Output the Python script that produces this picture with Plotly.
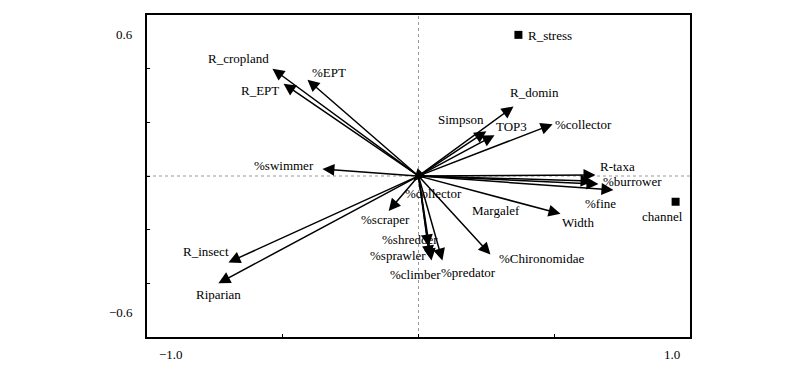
import plotly.graph_objects as go

# ---- data ----
arrow_names = ["R_cropland", "R_EPT", "%EPT", "%swimmer", "R_domin", "Simpson", "TOP3",
               "%collector", "R-taxa", "Margalef", "%burrower", "%fine", "Width",
               "%Chironomidae", "%predator", "%climber", "%sprawler", "%shredder",
               "%scraper", "%collector ", "R_insect", "Riparian"]
arrow_x = [-0.538, -0.497, -0.409, -0.354, 0.350, 0.250, 0.280,
           0.494, 0.652, 0.641, 0.663, 0.718, 0.523,
           0.265, 0.088, 0.048, 0.041, 0.037,
           -0.110, -0.018, -0.700, -0.737]
arrow_y = [0.400, 0.344, 0.359, 0.026, 0.259, 0.167, 0.152,
           0.193, 0.004, -0.019, -0.030, -0.052, -0.141,
           -0.293, -0.315, -0.315, -0.304, -0.263,
           -0.130, -0.019, -0.322, -0.400]
label_x = [-0.663, -0.582, -0.331, -0.497, 0.427, 0.155, 0.343,
           0.608, 0.733, 0.287, 0.788, 0.670, 0.589,
           0.453, 0.185, -0.010, -0.077, -0.033,
           -0.122, 0.055, -0.781, -0.737]
label_y = [0.437, 0.319, 0.385, 0.041, 0.311, 0.211, 0.185,
           0.193, 0.037, -0.130, -0.022, -0.104, -0.174,
           -0.307, -0.359, -0.367, -0.296, -0.237,
           -0.163, -0.067, -0.281, -0.441]

point_names = ["R_stress", "channel"]
point_x = [0.368, 0.947]
point_y = [0.526, -0.096]
point_label_x = [0.483, 0.899]
point_label_y = [0.522, -0.152]

x_range = [-1.0, 1.0]
y_range = [-0.6, 0.6]
x_ticks = [-0.5, 0.0, 0.5]
y_ticks = [-0.4, -0.2, 0.0, 0.2, 0.4]
x_tick_labels = ["\u22121.0", "1.0"]
y_tick_labels = ["0.6", "\u22120.6"]

FONT = "Liberation Serif"
FS = 13

fig = go.Figure()

fig.add_trace(go.Scatter(x=point_x, y=point_y, mode="markers",
                         marker=dict(symbol="square", size=8, color="black"),
                         hoverinfo="skip", showlegend=False))

ann = []
for nx, ny in zip(arrow_x, arrow_y):
    ann.append(dict(x=nx, y=ny, ax=0, ay=0, xref="x", yref="y", axref="x", ayref="y",
                    text="", showarrow=True, arrowhead=2, arrowsize=1.6,
                    arrowwidth=1.5, arrowcolor="black"))
for name, lx, ly in zip(arrow_names + point_names, label_x + point_label_x,
                        label_y + point_label_y):
    ann.append(dict(x=lx, y=ly, xref="x", yref="y", text=name.strip(), showarrow=False,
                    font=dict(family=FONT, size=FS, color="black")))

# axis end labels (placed inside the corners like the original)
ann.append(dict(x=x_range[0], y=0, xref="x", yref="paper", text=x_tick_labels[0],
                showarrow=False, xanchor="center", yanchor="top", xshift=24, yshift=-8,
                font=dict(family=FONT, size=FS, color="black")))
ann.append(dict(x=x_range[1], y=0, xref="x", yref="paper", text=x_tick_labels[1],
                showarrow=False, xanchor="center", yanchor="top", xshift=-18, yshift=-8,
                font=dict(family=FONT, size=FS, color="black")))
ann.append(dict(x=0, y=y_range[1], xref="paper", yref="y", text=y_tick_labels[0],
                showarrow=False, xanchor="right", yanchor="middle", xshift=-12, yshift=-19,
                font=dict(family=FONT, size=FS, color="black")))
ann.append(dict(x=0, y=y_range[0], xref="paper", yref="y", text=y_tick_labels[1],
                showarrow=False, xanchor="right", yanchor="middle", xshift=-12, yshift=25,
                font=dict(family=FONT, size=FS, color="black")))

shapes = [
    dict(type="line", xref="x", yref="y", x0=x_range[0], x1=x_range[1], y0=0, y1=0,
         line=dict(color="#999999", width=1, dash="dot"), layer="below"),
    dict(type="line", xref="x", yref="y", x0=0, x1=0, y0=y_range[0], y1=y_range[1],
         line=dict(color="#999999", width=1, dash="dot"), layer="below"),
]

# page has an 8px body margin, so compensate
fig.update_layout(
    width=792, height=358,
    margin=dict(l=139, r=110, t=5, b=29),
    paper_bgcolor="white", plot_bgcolor="white",
    annotations=ann, shapes=shapes,
    font=dict(family=FONT, size=FS, color="black"),
)
fig.update_xaxes(range=x_range, tickvals=x_ticks, ticks="inside", ticklen=3,
                 tickcolor="black", showticklabels=False, showgrid=False, zeroline=False,
                 showline=True, linecolor="black", linewidth=1.5, mirror=True)
fig.update_yaxes(range=y_range, tickvals=y_ticks, ticks="inside", ticklen=3,
                 tickcolor="black", showticklabels=False, showgrid=False, zeroline=False,
                 showline=True, linecolor="black", linewidth=1.5, mirror=True)

fig.write_html("out.html")
